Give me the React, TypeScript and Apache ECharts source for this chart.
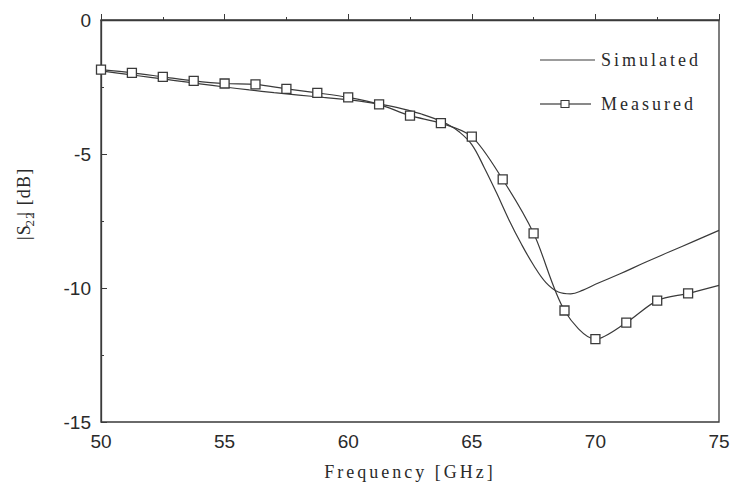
import React, { useEffect, useRef } from "react";
import * as echarts from "echarts";

const xTicks = [50, 55, 60, 65, 70, 75];
const yTicks = [-15, -10, -5, 0];

const simFreq = [50, 51, 52, 53, 54, 55, 56, 57, 58, 59, 60, 61, 62, 63, 63.5, 64, 64.5, 65, 65.5, 66, 66.5, 67, 67.5, 68, 68.5, 69, 69.5, 70, 71, 72, 73, 74, 75];
const simS22 = [-1.9, -2.02, -2.14, -2.26, -2.38, -2.5, -2.61, -2.71, -2.8, -2.89, -2.97, -3.1, -3.27, -3.52, -3.68, -3.88, -4.18, -4.65, -5.5, -6.45, -7.45, -8.35, -9.15, -9.8, -10.15, -10.22, -10.08, -9.86, -9.47, -9.05, -8.65, -8.25, -7.85];

const measFreq = [50, 51.25, 52.5, 53.75, 55, 56.25, 57.5, 58.75, 60, 61.25, 62.5, 63.75, 65, 66.25, 67.5, 68.75, 70, 71.25, 72.5, 73.75, 75];
const measS22 = [-1.85, -1.97, -2.12, -2.27, -2.37, -2.4, -2.57, -2.72, -2.89, -3.15, -3.57, -3.85, -4.35, -5.95, -7.96, -10.84, -11.91, -11.29, -10.47, -10.2, -9.9];

const seriesNames = ["Simulated", "Measured"];

export default function App() {
  const ref = useRef<HTMLDivElement>(null);
  useEffect(() => {
    if (!ref.current) return;
    const chart = echarts.init(ref.current, null, { renderer: "svg" });
    const lineColor = "#3a3a3a";
    const textColor = "#2a2a2a";
    const sansFont = "'Liberation Sans', Arial, sans-serif";
    const serifFont = "'Liberation Serif', serif";
    const serifFontY = "'Liberation Serif', Times, serif";
    chart.setOption({
      animation: false,
      backgroundColor: "#ffffff",
      grid: {
        left: 101,
        right: 14,
        top: 20,
        bottom: 70,
        show: true,
        borderColor: lineColor,
        borderWidth: 1.3,
        containLabel: false,
      },
      xAxis: {
        type: "value",
        min: xTicks[0],
        max: xTicks[xTicks.length - 1],
        interval: 5,
        name: "Frequency [GHz]",
        nameLocation: "middle",
        nameGap: 41,
        nameTextStyle: { fontFamily: serifFont, fontSize: 18, color: textColor },
        axisLine: { lineStyle: { color: lineColor, width: 1.3 } },
        axisTick: { inside: true, length: 6, lineStyle: { color: lineColor } },
        minorTick: { show: true, splitNumber: 2, length: 3, lineStyle: { color: lineColor } },
        splitLine: { show: false },
        axisLabel: { fontFamily: sansFont, fontSize: 19, color: textColor, margin: 10 },
      },
      yAxis: {
        type: "value",
        min: yTicks[0],
        max: yTicks[yTicks.length - 1],
        interval: 5,
        axisLine: { show: true, lineStyle: { color: lineColor, width: 1.3 } },
        axisTick: { show: true, inside: true, length: 6, lineStyle: { color: lineColor } },
        minorTick: { show: true, splitNumber: 2, length: 3, lineStyle: { color: lineColor } },
        splitLine: { show: false },
        axisLabel: { fontFamily: sansFont, fontSize: 19, color: textColor, margin: 10 },
      },
      graphic: [
        {
          type: "text",
          x: 24,
          y: 205,
          rotation: Math.PI / 2,
          style: {
            text: "|S{sub|22}| [dB]",
            fontFamily: serifFontY,
            fontSize: 18,
            fill: textColor,
            align: "center",
            verticalAlign: "middle",
            rich: {
              sub: { fontFamily: serifFontY, fontSize: 13, fill: textColor, padding: [10, 0, 0, 0] },
            },
          },
        },
        // legend: Simulated
        {
          type: "line",
          shape: { x1: 540, y1: 60, x2: 595, y2: 60 },
          style: { stroke: lineColor, lineWidth: 1.2 },
        },
        {
          type: "text",
          x: 601,
          y: 60,
          style: {
            text: seriesNames[0],
            fontFamily: serifFont,
            fontSize: 18,
            fill: textColor,
            align: "left",
            verticalAlign: "middle",
          },
        },
        // legend: Measured
        {
          type: "line",
          shape: { x1: 540, y1: 104, x2: 561, y2: 104 },
          style: { stroke: lineColor, lineWidth: 1.2 },
        },
        {
          type: "rect",
          shape: { x: 561, y: 100.5, width: 8, height: 7 },
          style: { fill: "#ffffff", stroke: lineColor, lineWidth: 1.1 },
        },
        {
          type: "line",
          shape: { x1: 569, y1: 104, x2: 591, y2: 104 },
          style: { stroke: lineColor, lineWidth: 1.2 },
        },
        {
          type: "text",
          x: 601,
          y: 104,
          style: {
            text: seriesNames[1],
            fontFamily: serifFont,
            fontSize: 18,
            fill: textColor,
            align: "left",
            verticalAlign: "middle",
          },
        },
      ],
      series: [
        {
          name: seriesNames[0],
          type: "line",
          smooth: 0.4,
          symbol: "none",
          showSymbol: false,
          lineStyle: { color: lineColor, width: 1.2 },
          itemStyle: { color: lineColor },
          data: simFreq.map((f, i) => [f, simS22[i]]),
        },
        {
          name: seriesNames[1],
          type: "line",
          smooth: 0.3,
          symbol: "rect",
          symbolSize: 9,
          lineStyle: { color: lineColor, width: 1.2 },
          itemStyle: { color: "#ffffff", borderColor: lineColor, borderWidth: 1.3 },
          data: measFreq.map((f, i) =>
            i === measFreq.length - 1
              ? { value: [f, measS22[i]], symbol: "none" }
              : [f, measS22[i]]
          ),
        },
      ],
    });
    return () => chart.dispose();
  }, []);
  return (
    <>
      <style>{`
        .s22chart text[style*="Liberation Serif"] { letter-spacing: 3px; }
        .s22chart text[font-family*="Liberation Serif"] { letter-spacing: 3px; }
        .s22chart text[style*="Times"] { letter-spacing: 1.2px; }
        .s22chart text[font-family*="Times"] { letter-spacing: 1.2px; }
      `}</style>
      <div
        ref={ref}
        className="s22chart"
        style={{ width: 733, height: 492, position: "fixed", left: 0, top: 0 }}
      />
    </>
  );
}
